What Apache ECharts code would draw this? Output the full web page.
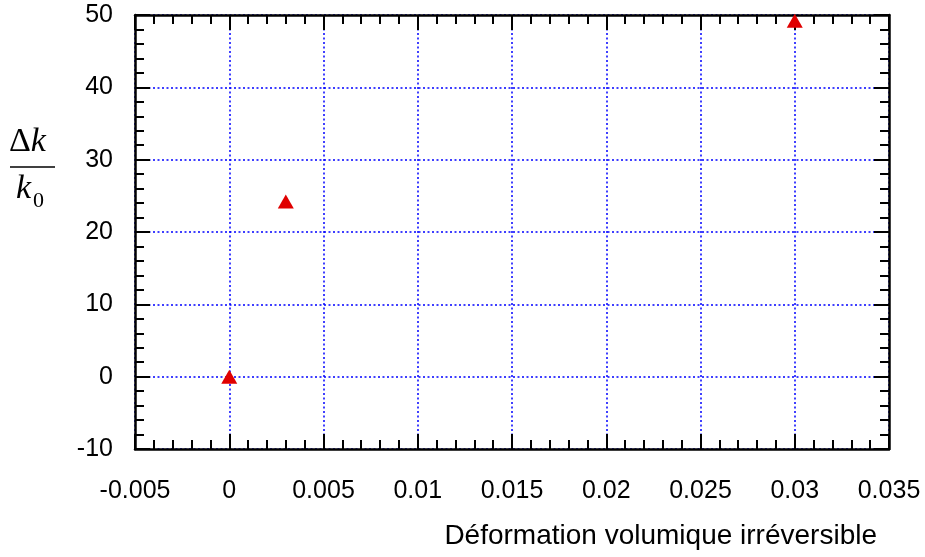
<!DOCTYPE html>
<html><head><meta charset="utf-8">
<script src="https://cdn.jsdelivr.net/npm/echarts@6/dist/echarts.min.js"></script>
<style>html,body{margin:0;padding:0;background:#fff}#c{width:925px;height:557px}</style>
</head><body><div id="c"></div>
<script>
const xValues = [0, 0.003, 0.03];
const yValues = [0, 24.2, 49.2];
const xAxisName = 'Déformation volumique irréversible';

const chart = echarts.init(document.getElementById('c'));
const fmt = v => { const r = Math.round(v * 100000) / 100000; return String(r); };
const font = 'Liberation Sans, Arial, sans-serif';
const serif = '"Liberation Serif", "Times New Roman", serif';
const baseAxis = {
  axisLine: { show: true, onZero: false, lineStyle: { color: '#000', width: 2.5 } },
  axisTick: { show: true, inside: true, length: 15, lineStyle: { color: '#000', width: 2 } },
  minorTick: { show: true, splitNumber: 5, length: 9, lineStyle: { color: '#000', width: 2 } },
  splitLine: { show: false }
};
const grid = { color: '#0000ff', type: [2, 2.5], width: 1.5 };
chart.setOption({
  animation: false,
  backgroundColor: '#fff',
  grid: { left: 135, right: 36, top: 15, bottom: 108 },
  xAxis: [
    Object.assign({}, baseAxis, {
      type: 'value', min: -0.005, max: 0.035, interval: 0.005, position: 'bottom',
      name: xAxisName, nameLocation: 'end', nameGap: 0,
      nameTextStyle: { fontFamily: font, fontSize: 28, color: '#000', align: 'right', verticalAlign: 'top', padding: [73, 12, 0, 0] },
      axisLabel: { fontFamily: font, fontSize: 25, color: '#000', margin: 30, formatter: fmt },
      splitLine: { show: true, lineStyle: grid }
    }),
    Object.assign({}, baseAxis, {
      type: 'value', min: -0.005, max: 0.035, interval: 0.005, position: 'top',
      axisLabel: { show: false }
    })
  ],
  yAxis: [
    Object.assign({}, baseAxis, {
      type: 'value', min: -10, max: 50, interval: 10, position: 'left',
      axisLabel: { fontFamily: font, fontSize: 25, color: '#000', margin: 22 },
      splitLine: { show: true, lineStyle: grid }
    }),
    Object.assign({}, baseAxis, {
      type: 'value', min: -10, max: 50, interval: 10, position: 'right',
      axisLabel: { show: false }
    })
  ],
  graphic: [
    { type: 'text', x: 9, y: 142, style: { text: '{d|Δ}{k|k}', verticalAlign: 'middle', rich: {
        d: { fontFamily: serif, fontSize: 34, color: '#000' },
        k: { fontFamily: serif, fontSize: 34, fontStyle: 'italic', color: '#000' } } } },
    { type: 'line', shape: { x1: 10, y1: 167, x2: 55, y2: 167 }, style: { stroke: '#000', lineWidth: 1.5 } },
    { type: 'text', x: 16, y: 189, style: { text: 'k', verticalAlign: 'middle', font: 'italic 34px "Liberation Serif", "Times New Roman", serif', fill: '#000' } },
    { type: 'text', x: 33, y: 201, style: { text: '0', verticalAlign: 'middle', font: '22px "Liberation Serif", "Times New Roman", serif', fill: '#000' } }
  ],
  series: [{
    type: 'scatter', xAxisIndex: 0, yAxisIndex: 0,
    symbol: 'triangle', symbolSize: [16, 14],
    itemStyle: { color: '#e00000', opacity: 1 },
    data: xValues.map((x, i) => [x, yValues[i]]),
    z: 10
  }]
});
</script></body></html>
